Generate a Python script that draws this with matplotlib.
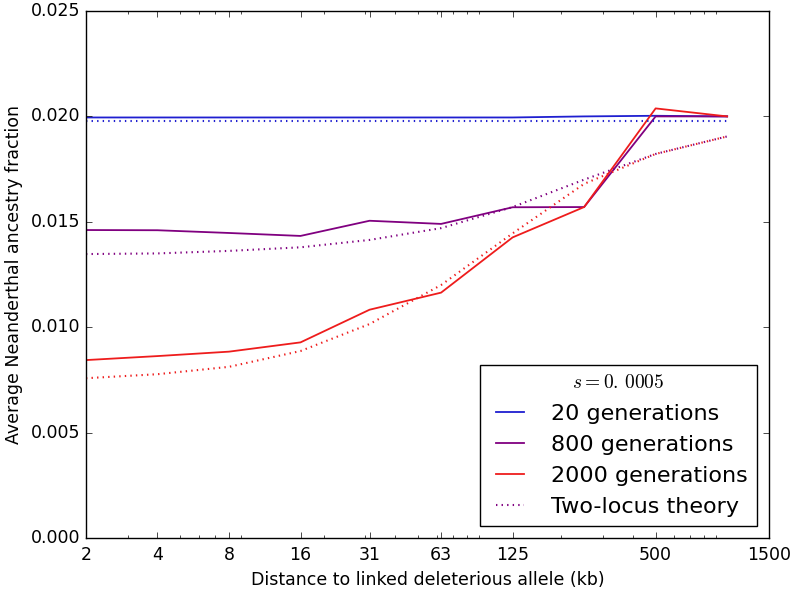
import matplotlib
matplotlib.use("Agg")
import matplotlib.pyplot as plt
from matplotlib.ticker import FixedLocator, FixedFormatter, FormatStrFormatter

plt.style.use('classic')

distance_kb = [2, 4, 8, 16, 31.25, 62.5, 125, 250, 500, 1000]

sim_20 = [0.01995, 0.01995, 0.01995, 0.01995, 0.01995, 0.01995, 0.01995, 0.02000, 0.02003, 0.02000]
sim_800 = [0.01461, 0.01460, 0.01447, 0.01433, 0.01505, 0.01490, 0.01569, 0.01570, 0.02000, 0.02000]
sim_2000 = [0.00844, 0.00863, 0.00884, 0.00928, 0.01083, 0.01164, 0.01426, 0.01570, 0.02038, 0.02000]

theory_20 = [0.01980, 0.01980, 0.01980, 0.01980, 0.01980, 0.01980, 0.01980, 0.01980, 0.01980, 0.01980]
theory_800 = [0.01347, 0.01350, 0.01362, 0.01379, 0.01414, 0.01470, 0.01570, 0.01700, 0.01822, 0.01905]
theory_2000 = [0.00758, 0.00777, 0.00812, 0.00887, 0.01015, 0.01200, 0.01445, 0.01680, 0.01822, 0.01905]

tick_values = [2, 4, 8, 16, 31.25, 62.5, 125, 500, 1500]
tick_labels = ['2', '4', '8', '16', '31', '63', '125', '500', '1500']

c_blue = '#1f1fd0'
c_purple = '#800080'
c_red = '#ee1c1c'

fig = plt.figure(figsize=(7.93, 5.89), dpi=100, facecolor='white')
ax = fig.add_axes([0.1084, 0.0866, 0.8613, 0.8947])

ax.plot(distance_kb, sim_20, '-', color=c_blue, lw=1.3, label='20 generations')
ax.plot(distance_kb, sim_800, '-', color=c_purple, lw=1.3, label='800 generations')
ax.plot(distance_kb, sim_2000, '-', color=c_red, lw=1.3, label='2000 generations')
ax.plot(distance_kb, theory_20, ':', color=c_blue, lw=1.5)
ax.plot(distance_kb, theory_800, ':', color=c_purple, lw=1.5, label='Two-locus theory')
ax.plot(distance_kb, theory_2000, ':', color=c_red, lw=1.5)

ax.set_xscale('log')
ax.set_xlim(2, 1500)
ax.set_ylim(0, 0.025)
ax.xaxis.set_major_locator(FixedLocator(tick_values))
ax.xaxis.set_major_formatter(FixedFormatter(tick_labels))
ax.set_yticks([0.0, 0.005, 0.010, 0.015, 0.020, 0.025])
ax.yaxis.set_major_formatter(FormatStrFormatter('%.3f'))
ax.tick_params(labelsize=12.5)
ax.tick_params(axis='x', pad=6)

ax.set_xlabel('Distance to linked deleterious allele (kb)', fontsize=12.5)
ax.set_ylabel('Average Neanderthal ancestry fraction', fontsize=12.5, labelpad=6)

leg = ax.legend(loc='lower right', fontsize=16, handlelength=1.9, handletextpad=0.9,
                title=r'$s=0.\,0005$', borderaxespad=0.55)
leg.get_title().set_fontsize(14)
leg.get_frame().set_linewidth(1.0)

fig.savefig('out.png', dpi=100, facecolor='white')
